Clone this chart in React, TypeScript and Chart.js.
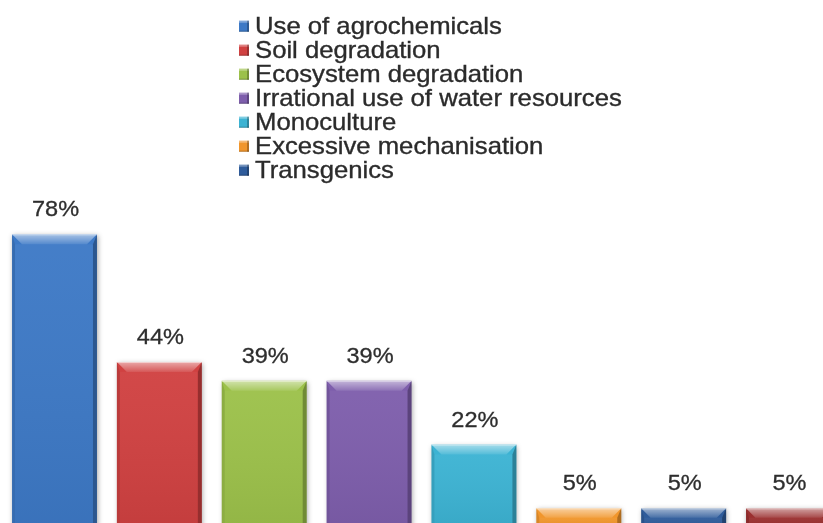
import React, { useEffect, useRef } from "react";
import { Chart, registerables } from "chart.js";

Chart.register(...registerables);

const categories = [
  "Use of agrochemicals",
  "Soil degradation",
  "Ecosystem degradation",
  "Irrational use of water resources",
  "Monoculture",
  "Excessive mechanisation",
  "Transgenics",
  "",
];
const values = [78, 44, 39, 39, 22, 5, 5, 5];
const colors = [
  "#3d79c6",
  "#d04141",
  "#9cc14a",
  "#7e5eac",
  "#3cb3d3",
  "#f1962c",
  "#2f5c9b",
  "#9b3030",
];

const bevelPlugin = {
  id: "bevel",
  beforeDatasetsDraw(chart: any) {
    const ctx = chart.ctx;
    ctx.save();
    ctx.shadowColor = "rgba(0,0,0,0.35)";
    ctx.shadowBlur = 5;
    ctx.shadowOffsetX = 1;
    ctx.shadowOffsetY = 1;
  },
  afterDatasetsDraw(chart: any) {
    const ctx = chart.ctx;
    ctx.restore();
    const meta = chart.getDatasetMeta(0);
    meta.data.forEach((bar: any, i: number) => {
      const w = bar.width;
      const x0 = bar.x - w / 2;
      const x1 = bar.x + w / 2;
      const top = bar.y;
      const bottom = bar.base;
      const b = Math.min(10, (bottom - top) / 2);
      ctx.save();
      // top bevel
      const g = ctx.createLinearGradient(0, top, 0, top + b);
      g.addColorStop(0, "rgba(255,255,255,0.55)");
      g.addColorStop(1, "rgba(255,255,255,0.12)");
      ctx.fillStyle = g;
      ctx.beginPath();
      ctx.moveTo(x0, top);
      ctx.lineTo(x1, top);
      ctx.lineTo(x1 - b, top + b);
      ctx.lineTo(x0 + b, top + b);
      ctx.closePath();
      ctx.fill();
      // right bevel
      ctx.fillStyle = "rgba(0,0,0,0.28)";
      ctx.beginPath();
      ctx.moveTo(x1, top);
      ctx.lineTo(x1, bottom);
      ctx.lineTo(x1 - 4, bottom);
      ctx.lineTo(x1 - 4, top + b);
      ctx.closePath();
      ctx.fill();
      // left bevel
      ctx.fillStyle = "rgba(0,0,0,0.1)";
      ctx.beginPath();
      ctx.moveTo(x0, top);
      ctx.lineTo(x0 + 3, top + b);
      ctx.lineTo(x0 + 3, bottom);
      ctx.lineTo(x0, bottom);
      ctx.closePath();
      ctx.fill();
      // top highlight line
      ctx.fillStyle = "rgba(255,255,255,0.5)";
      ctx.fillRect(x0, top, w, 1);
      // body subtle gradient
      const g2 = ctx.createLinearGradient(0, top + b, 0, bottom);
      g2.addColorStop(0, "rgba(255,255,255,0.04)");
      g2.addColorStop(1, "rgba(0,0,0,0.06)");
      ctx.fillStyle = g2;
      ctx.fillRect(x0 + 3, top + b, w - 7, bottom - top - b);
      ctx.restore();

      // value label
      ctx.save();
      ctx.fillStyle = "#2e2e2e";
      ctx.strokeStyle = "#2e2e2e";
      ctx.lineWidth = 0.3;
      ctx.font = "22px 'Liberation Sans', Arial, sans-serif";
      ctx.textAlign = "center";
      ctx.textBaseline = "alphabetic";
      ctx.translate(bar.x + 1, top - 18);
      ctx.scale(1.07, 1);
      ctx.fillText(values[i] + "%", 0, 0);
      ctx.strokeText(values[i] + "%", 0, 0);
      ctx.restore();
    });
  },
};

const legendPlugin = {
  id: "customLegend",
  afterDraw(chart: any) {
    const ctx = chart.ctx;
    categories.forEach((name, i) => {
      if (!name) return;
      const baseline = 33.7 + i * 24;
      ctx.save();
      // square
      const sx = 239;
      const sy = baseline - 13;
      ctx.fillStyle = colors[i];
      ctx.fillRect(sx, sy, 10, 11);
      ctx.fillStyle = "rgba(255,255,255,0.35)";
      ctx.fillRect(sx, sy, 10, 2);
      ctx.fillStyle = "rgba(0,0,0,0.25)";
      ctx.fillRect(sx + 8, sy, 2, 11);
      ctx.fillRect(sx, sy + 10, 10, 1);
      // text
      ctx.fillStyle = "#2b2b2b";
      ctx.strokeStyle = "#2b2b2b";
      ctx.lineWidth = 0.35;
      ctx.font = "24px 'Liberation Sans', Arial, sans-serif";
      ctx.textAlign = "left";
      ctx.textBaseline = "alphabetic";
      ctx.translate(255, baseline);
      ctx.scale(1.07, 1);
      ctx.fillText(name, 0, 0);
      ctx.strokeText(name, 0, 0);
      ctx.restore();
    });
  },
};

export default function App() {
  const ref = useRef<HTMLCanvasElement>(null);
  useEffect(() => {
    if (!ref.current) return;
    const chart = new Chart(ref.current, {
      type: "bar",
      data: {
        labels: categories,
        datasets: [
          {
            data: values,
            backgroundColor: colors,
            borderWidth: 0,
            categoryPercentage: 0.81,
            barPercentage: 1,
            clip: false as any,
          },
        ],
      },
      options: {
        animation: false,
        responsive: false,
        maintainAspectRatio: false,
        layout: { padding: { left: 54.5, right: 34.5, top: 190, bottom: 0 } },
        plugins: { legend: { display: false }, tooltip: { enabled: false } },
        scales: {
          x: { display: false, offset: false, grid: { display: false } },
          y: { display: false, min: 1.09, max: 89.8 },
        },
      },
      plugins: [bevelPlugin, legendPlugin],
    });
    return () => chart.destroy();
  }, []);
  return (
    <div style={{ position: "fixed", left: 0, top: 0, width: 823, height: 523, background: "#fff" }}>
      <canvas ref={ref} width={823} height={523} style={{ width: 823, height: 523, display: "block" }} />
    </div>
  );
}
